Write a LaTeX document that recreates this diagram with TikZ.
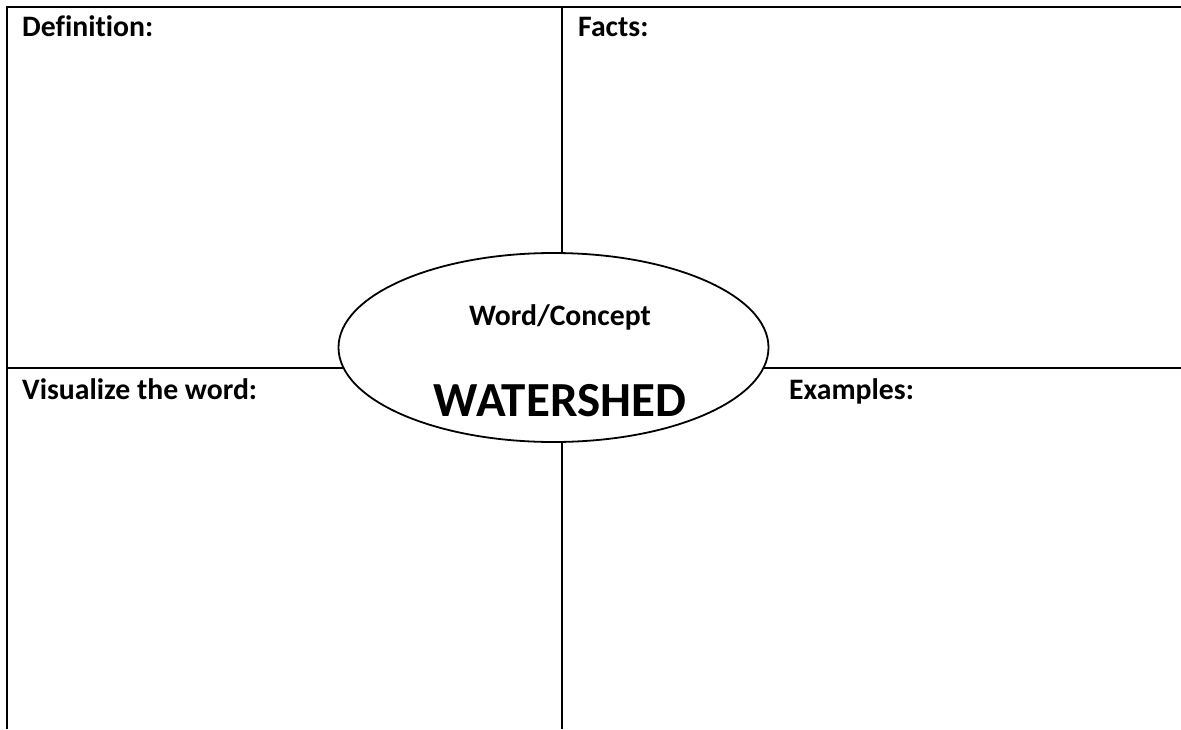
\documentclass[tikz,border=0pt]{standalone}
\usepackage{fontspec}
\setmainfont{Carlito}[Ligatures=NoCommon]
\usetikzlibrary{shapes.geometric}

\tikzset{cornerlabel/.style={anchor=base west,inner sep=0pt,font=\bfseries\fontsize{29.7}{34}\selectfont},
  rule/.style={line width=1.5pt}}

\begin{document}
\begin{tikzpicture}[x=1pt,y=-1pt]
      \useasboundingbox(0,0)rectangle(1181,729);

      % table lines
      \draw[rule](562,7)--(562,729);
      \draw[rule](7,368)--(1181,368);
      \draw[line width=2.5pt](7,729)--(7,7)--(1181,7);

      \node[ellipse,draw,fill=white,line width=1.8pt,minimum width=430pt,minimum height=189pt,inner sep=0pt](concept) at(553.5,347.5) {};

      \node[cornerlabel](def) at(22,36) {Definition:};
      \node[cornerlabel](facts) at(578,36) {Facts:};
      \node[cornerlabel](visual) at(22,399) {Visualize the word:};
      \node[cornerlabel](examples) at(789,399) {Examples:};

      \node[anchor=base,inner sep=0pt,font=\bfseries\fontsize{29.7}{34}\selectfont](word) at(560,325) {Word/Concept};
      \node[anchor=base,inner sep=0pt,font=\bfseries\fontsize{49}{58}\selectfont](term) at(560,416) {WATERSHED};
\end{tikzpicture}
\end{document}
